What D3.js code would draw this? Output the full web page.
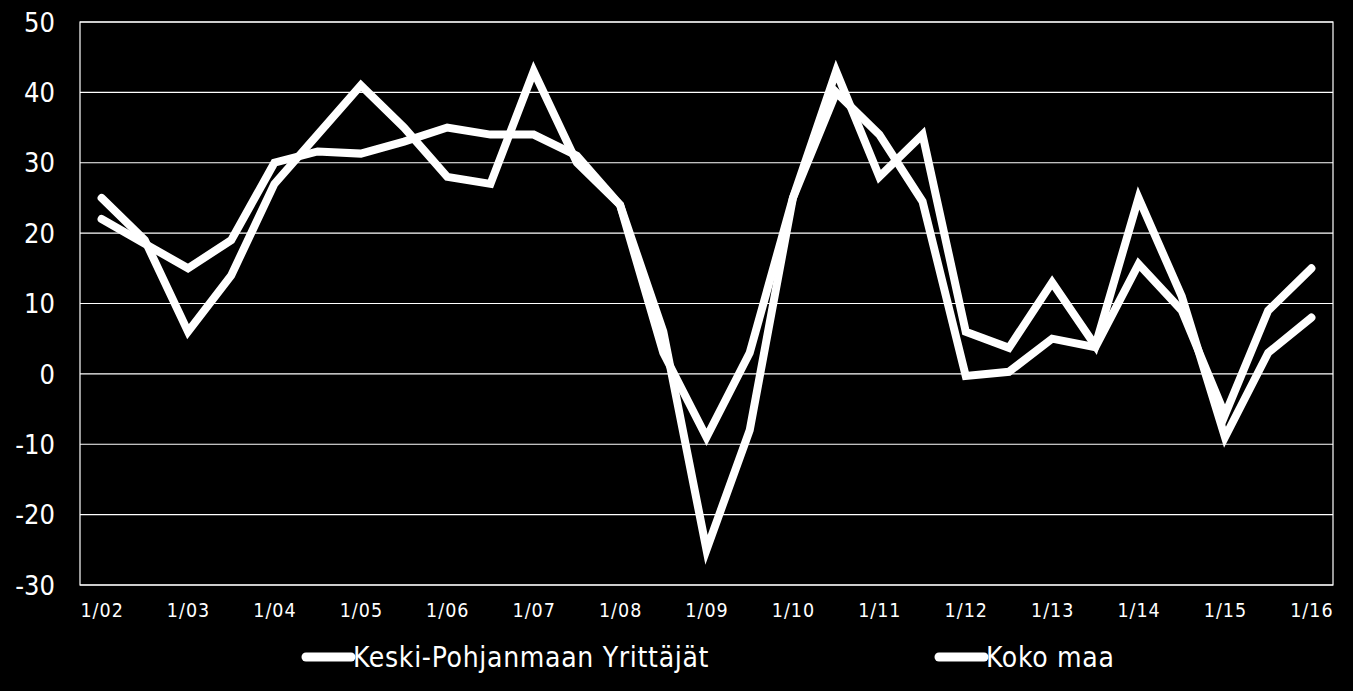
<!DOCTYPE html>
<html>
<head>
<meta charset="utf-8">
<script src="https://cdn.jsdelivr.net/npm/d3@7/dist/d3.min.js"></script>
<style>
  html, body { margin: 0; padding: 0; background: #000; }
  svg { display: block; }
  text { font-family: "DejaVu Sans Condensed", "DejaVu Sans", sans-serif; fill: #fff; }
</style>
</head>
<body>
<svg id="chart" width="1353" height="691"></svg>
<script>
// Half-year periods 1/02 ... 1/16
const periods = [
  "1/02","7/02","1/03","7/03","1/04","7/04","1/05","7/05","1/06","7/06",
  "1/07","7/07","1/08","7/08","1/09","7/09","1/10","7/10","1/11","7/11",
  "1/12","7/12","1/13","7/13","1/14","7/14","1/15","7/15","1/16"
];
const tickLabels = ["1/02","1/03","1/04","1/05","1/06","1/07","1/08","1/09","1/10","1/11","1/12","1/13","1/14","1/15","1/16"];
const yTicks = [-30,-20,-10,0,10,20,30,40,50];

const seriesNames = ["Keski-Pohjanmaan Yrittäjät", "Koko maa"];
const keskiPohjanmaa = [25,19,6,14,27,34,41,35,28,27,43,30,24,6,-25,-8,25,43,28,34,6,3.7,13,4,25,11,-9,3,8];
const kokoMaa        = [22,18.5,15,19,30,31.6,31.3,33,35,34,34,31,24,3,-9,3,25,40,34,24.5,-0.3,0.3,5,3.8,15.6,9,-5.8,9,15];

const svg = d3.select("#chart");
const W = 1353, H = 691;
const m = { left: 80, right: 20, top: 22, bottom: 106 };
const pw = W - m.left - m.right, ph = H - m.top - m.bottom;

const x = d3.scalePoint().domain(periods).range([m.left, m.left + pw]).padding(0.5);
const y = d3.scaleLinear().domain([-30, 50]).range([m.top + ph, m.top]);

// gridlines
svg.append("g").selectAll("line").data(yTicks).join("line")
  .attr("x1", m.left).attr("x2", m.left + pw)
  .attr("y1", d => y(d)).attr("y2", d => y(d))
  .attr("stroke", "#fff").attr("stroke-width", 1.2);

// plot border
svg.append("rect").attr("x", m.left).attr("y", m.top).attr("width", pw).attr("height", ph)
  .attr("fill", "none").attr("stroke", "#fff").attr("stroke-width", 1.2);

// y axis labels
const yAxis = d3.axisLeft(y).tickValues(yTicks).tickSize(0).tickPadding(25).tickFormat(d => String(d));
const gy = svg.append("g").attr("transform", `translate(${m.left},0)`).call(yAxis);
gy.select(".domain").remove();
gy.selectAll("text").attr("font-size", 27).attr("fill", "#fff")
  .style("font-family", '"DejaVu Sans Condensed", sans-serif').attr("dy", "0.34em");

// x axis labels
const xAxis = d3.axisBottom(x).tickValues(tickLabels).tickSize(0).tickPadding(18);
const gx = svg.append("g").attr("transform", `translate(0,${m.top + ph})`).call(xAxis);
gx.select(".domain").remove();
gx.selectAll("text").attr("font-size", 19.5).attr("fill", "#fff")
  .attr("letter-spacing", 1)
  .style("font-family", '"DejaVu Sans Condensed", sans-serif');

// lines
const line = d3.line().x((d, i) => x(periods[i])).y(d => y(d));
[keskiPohjanmaa, kokoMaa].forEach(s => {
  svg.append("path").datum(s).attr("d", line)
    .attr("fill", "none").attr("stroke", "#fff").attr("stroke-width", 8)
    .attr("stroke-linejoin", "miter").attr("stroke-linecap", "round");
});

// legend
const legX = [306, 939];
const legY = 657;
seriesNames.forEach((n, i) => {
  svg.append("line").attr("x1", legX[i]).attr("x2", legX[i] + 45)
    .attr("y1", legY).attr("y2", legY).attr("stroke", "#fff").attr("stroke-width", 9)
    .attr("stroke-linecap", "round");
  svg.append("text").attr("x", legX[i] + 47).attr("y", legY).attr("dy", "0.36em")
    .attr("font-size", 28).attr("letter-spacing", 0.7).text(n);
});
</script>
</body>
</html>
